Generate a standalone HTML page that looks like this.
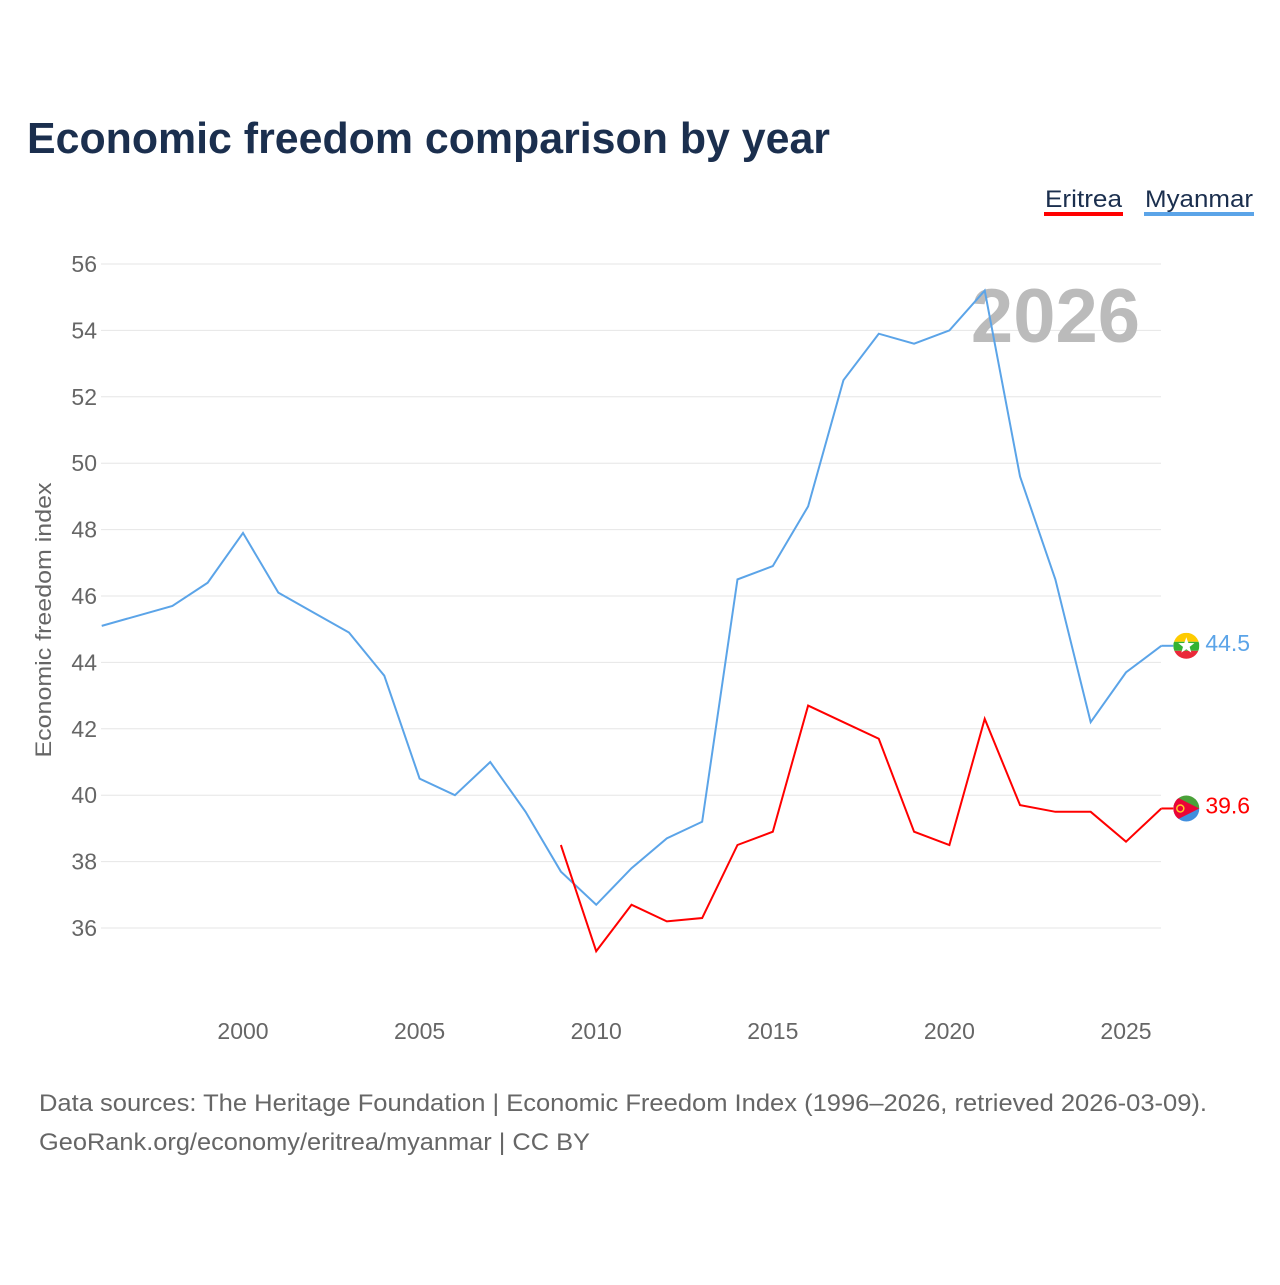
<!DOCTYPE html>
<html><head><meta charset="utf-8"><style>
body{margin:0;background:#fff;font-family:"Liberation Sans",sans-serif}
svg text{font-family:"Liberation Sans",sans-serif}
</style></head><body>
<svg id="chart" width="1280" height="1280" viewBox="0 0 1280 1280">
<text x="27" y="153" font-size="44" font-weight="bold" fill="#1b2f4e" textLength="803" lengthAdjust="spacingAndGlyphs">Economic freedom comparison by year</text>
<g>
<text x="1045" y="207" font-size="24" fill="#1b2f4e" textLength="77" lengthAdjust="spacingAndGlyphs">Eritrea</text>
<rect x="1044" y="212" width="79" height="4" fill="#ff0000"/>
<text x="1145" y="207" font-size="24" fill="#1b2f4e" textLength="108" lengthAdjust="spacingAndGlyphs">Myanmar</text>
<rect x="1144" y="212" width="110" height="4" fill="#5ba4e8"/>
</g>
<g id="grid"></g>
<text x="1140" y="342" text-anchor="end" font-size="76" font-weight="bold" fill="#bbbbbb">2026</text>
<text transform="translate(51,620) rotate(-90)" text-anchor="middle" font-size="22" fill="#666" textLength="275" lengthAdjust="spacingAndGlyphs">Economic freedom index</text>
<g id="xt"></g>
<g id="series"></g>
<text x="39" y="1111" font-size="24" fill="#666" textLength="1168" lengthAdjust="spacingAndGlyphs">Data sources: The Heritage Foundation | Economic Freedom Index (1996–2026, retrieved 2026-03-09).</text>
<text x="39" y="1150" font-size="24" fill="#666" textLength="551" lengthAdjust="spacingAndGlyphs">GeoRank.org/economy/eritrea/myanmar | CC BY</text>
</svg>
<script>
const years=[1996,1997,1998,1999,2000,2001,2002,2003,2004,2005,2006,2007,2008,2009,2010,2011,2012,2013,2014,2015,2016,2017,2018,2019,2020,2021,2022,2023,2024,2025,2026];
const myanmar=[45.1,45.4,45.7,46.4,47.9,46.1,45.5,44.9,43.6,40.5,40.0,41.0,39.5,37.7,36.7,37.8,38.7,39.2,46.5,46.9,48.7,52.5,53.9,53.6,54.0,55.2,49.6,46.5,42.2,43.7,44.5];
const eritreaYears=[2009,2010,2011,2012,2013,2014,2015,2016,2017,2018,2019,2020,2021,2022,2023,2024,2025,2026];
const eritrea=[38.5,35.3,36.7,36.2,36.3,38.5,38.9,42.7,42.2,41.7,38.9,38.5,42.3,39.7,39.5,39.5,38.6,39.6];
const yTicks=[36,38,40,42,44,46,48,50,52,54,56];
const xTicks=[2000,2005,2010,2015,2020,2025];
const NS="http://www.w3.org/2000/svg";
const X=y=>243+(y-2000)*35.32;
const Y=v=>264+(56-v)*33.2;
function mk(t,a,p){const e=document.createElementNS(NS,t);for(const k in a)e.setAttribute(k,a[k]);p.appendChild(e);return e;}
const g=document.getElementById('grid');
yTicks.forEach(v=>{
 const l=mk('line',{x1:101,x2:1161,y1:Y(v),y2:Y(v),stroke:'#e6e6e6','stroke-width':1},g);
 
 
 const t=mk('text',{x:97,y:Y(v)+8,'text-anchor':'end','font-size':23,fill:'#666'},g);t.textContent=v;
 
 
});
const xt=document.getElementById('xt');
xTicks.forEach(v=>{
 const t=mk('text',{x:X(v),y:1039,'text-anchor':'middle','font-size':23,fill:'#666'},xt);t.textContent=v;
 
 
});
const s=document.getElementById('series');
const defs=mk('defs',{},s);
function line(xs,vs,col,name){
 const p=mk('polyline',{points:xs.map((y,i)=>X(y)+','+Y(vs[i])).join(' '),fill:'none',stroke:col,'stroke-width':2},s);
 
 
 const lx=X(xs[xs.length-1]),ly=Y(vs[vs.length-1]);
 mk('line',{x1:lx,x2:lx+12,y1:ly,y2:ly,stroke:col,'stroke-width':2},s);
 const cx=lx+25;
 const cp=mk('clipPath',{id:'clip-'+name},defs);
 mk('circle',{cx:cx,cy:ly,r:13},cp);
 const fg=mk('g',{'clip-path':'url(#clip-'+name+')'},s);
 
 
 if(name==='myanmar'){
  mk('rect',{x:cx-13,y:ly-13,width:26,height:9,fill:'#fecb00'},fg);
  mk('rect',{x:cx-13,y:ly-4,width:26,height:9,fill:'#34b233'},fg);
  mk('rect',{x:cx-13,y:ly+5,width:26,height:9,fill:'#ea2839'},fg);
  const pts=[];for(let i=0;i<10;i++){const r=i%2?3.5:8.5,a=-Math.PI/2+i*Math.PI/5;pts.push((cx+r*Math.cos(a))+','+(ly+r*Math.sin(a)));}
  mk('polygon',{points:pts.join(' '),fill:'#fff'},fg);
 } else {
  mk('rect',{x:cx-13,y:ly-13,width:26,height:13,fill:'#4aa139'},fg);
  mk('rect',{x:cx-13,y:ly,width:26,height:13,fill:'#418fde'},fg);
  mk('polygon',{points:(cx-13)+','+(ly-13)+' '+(cx+13)+','+ly+' '+(cx-13)+','+(ly+13),fill:'#ea0437'},fg);
  mk('circle',{cx:cx-6,cy:ly,r:3.5,fill:'none',stroke:'#ffc726','stroke-width':1.5},fg);
 }
 const t=mk('text',{x:lx+44,y:ly+5,'font-size':23,fill:col},s);t.textContent=vs[vs.length-1].toFixed(1);
 
 
}
line(years,myanmar,'#5ba4e8','myanmar');
line(eritreaYears,eritrea,'#ff0000','eritrea');
</script>
</body></html>
